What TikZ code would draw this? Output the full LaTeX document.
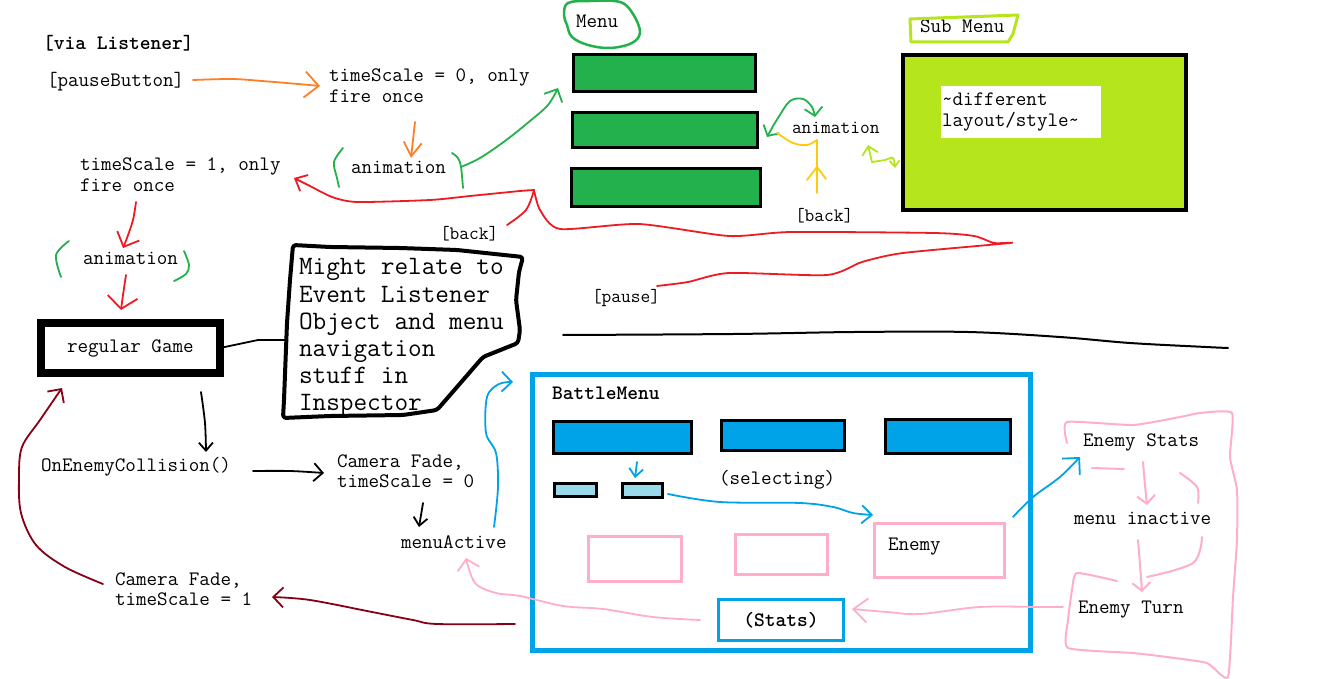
\documentclass[tikz,border=0pt]{standalone}
\usetikzlibrary{arrows.meta}
\definecolor{pgreen}{HTML}{22B14C}
\definecolor{pblue}{HTML}{00A2E8}
\definecolor{plblue}{HTML}{99D9EA}
\definecolor{pred}{HTML}{ED1C24}
\definecolor{porange}{HTML}{FF7F27}
\definecolor{pdred}{HTML}{880015}
\definecolor{ppink}{HTML}{FFAEC9}
\definecolor{plime}{HTML}{B5E61D}
\definecolor{pyellow}{HTML}{FFC90E}
\begin{document}
\begin{tikzpicture}[x=1pt,y=-1pt,
  every node/.style={inner sep=0pt, outer sep=0pt},
  txt/.style={anchor=base west, font=\ttfamily\fontsize{20.5}{24}\selectfont},
  stxt/.style={anchor=base west, font=\ttfamily\fontsize{18.9}{22}\selectfont},
  btxt/.style={anchor=base west, font=\ttfamily\bfseries\fontsize{20.5}{24}\selectfont},
  mtxt/.style={anchor=base west, font=\ttfamily\fontsize{26.5}{30}\selectfont},
  pen/.style={line width=1.8pt, line cap=round, line join=round},
  hd/.style={-{Straight Barb[length=8pt,width=18pt]}},
  hdd/.style={{Straight Barb[length=8pt,width=18pt]}-{Straight Barb[length=8pt,width=18pt]}},
  gbtn/.style={draw=black, fill=pgreen, line width=3pt},
  bbtn/.style={draw=black, fill=pblue, line width=3pt},
  sbtn/.style={draw=black, fill=plblue, line width=3pt},
  pbox/.style={draw=ppink, line width=3pt},
  sm/.style={smooth, tension=0.55}
]
\useasboundingbox (0,0) rectangle (1334,679);
\fill[white] (0,0) rectangle (1334,679);

% ---------------- text, top left ----------------
\node[btxt] (via) at (43,50) {[via Listener]};
\node[txt] (pb) at (47,87) {[pauseButton]};
\node[txt] (ts0a) at (329,82) {timeScale = 0, only};
\node[txt] (ts0b) at (329,103) {fire once};
\node[txt] (anim1) at (351,174) {animation};
\node[txt] (ts1a) at (80,171) {timeScale = 1, only};
\node[txt] (ts1b) at (80,192) {fire once};
\node[txt] (anim2) at (83,265) {animation};
\node[stxt] (back1) at (440,240) {[back]};
\node[stxt] (pause) at (592,302) {[pause]};

% ---------------- regular game ----------------
\node[draw=black, line width=8pt, minimum width=179pt, minimum height=50pt] (game) at (130.5,348) {};
\node[txt] (gametxt) at (67,352) {regular Game};

% ---------------- note box ----------------
\draw[line width=4pt, line join=round, rounded corners=3pt]
  (293,245) -- (330,247) -- (400,248) -- (457,250) -- (523,257) -- (519,272) -- (516,300)
  -- (520,330) -- (518,343) -- (483,357) -- (457,387) -- (437,410) -- (403,415)
  -- (330,416) -- (283,418) -- (284,400) -- (287,323) -- (290,280) -- cycle;
\node[mtxt] (n1) at (299,275) {Might relate to};
\node[mtxt] (n2) at (299,302) {Event Listener};
\node[mtxt] (n3) at (299,329) {Object and menu};
\node[mtxt] (n4) at (299,356) {navigation};
\node[mtxt] (n5) at (299,383) {stuff in};
\node[mtxt] (n6) at (299,410) {Inspector};
\coordinate (notel) at (287,340);
\draw[pen] (game.east) -- (258,340) -- (notel);

% ---------------- Menu ----------------
\node[txt] (menu) at (576,28) {Menu};
\draw[pgreen, line width=2.5pt] plot[smooth cycle, tension=0.6] coordinates
  {(564,15) (568,3) (590,1) (620,2) (633,14) (640,32) (632,43) (610,48) (588,45) (572,37) (567,25)};
\node[gbtn, minimum width=182pt, minimum height=37pt] (m1) at (664.5,73) {};
\node[gbtn, minimum width=185pt, minimum height=35pt] (m2) at (665,130) {};
\node[gbtn, minimum width=189pt, minimum height=38pt] (m3) at (666,187.5) {};
\node[stxt] (anim3) at (792,134) {animation};
\node[stxt] (back2) at (795,222) {[back]};

% ---------------- Sub Menu ----------------
\node[txt] (sub) at (920,33) {Sub Menu};
\draw[plime, line width=3pt, line join=round] (910,19) -- (1018,15) -- (1013,34) -- (1008,42) -- (911,42) -- cycle;
\node[draw=black, fill=plime, line width=4pt, minimum width=283pt, minimum height=155pt] (subbox) at (1044.5,132.5) {};
\node[fill=white, minimum width=160pt, minimum height=52pt] (subw) at (1021,112) {};
\node[txt] (d1) at (942,106) {\char`\~different};
\node[txt] (d2) at (942,127) {layout/style\char`\~};

% ---------------- battle area texts ----------------
\node[txt] (oec) at (41,471) {OnEnemyCollision()};
\node[txt] (cf0a) at (337,467) {Camera Fade,};
\node[txt] (cf0b) at (337,487) {timeScale = 0};
\node[txt] (ma) at (401,548) {menuActive};
\node[txt] (cf1a) at (115,585) {Camera Fade,};
\node[txt] (cf1b) at (115,605) {timeScale = 1};

% ---------------- BattleMenu ----------------
\node[draw=pblue, line width=5pt, minimum width=498pt, minimum height=276pt] (battle) at (781.5,512.5) {};
\node[btxt] (bmt) at (552,399) {BattleMenu};
\node[bbtn, minimum width=138pt, minimum height=32pt] (b1) at (622.5,437.5) {};
\node[bbtn, minimum width=123pt, minimum height=30pt] (b2) at (783,435.5) {};
\node[bbtn, minimum width=125pt, minimum height=34pt] (b3) at (948,436.5) {};
\node[sbtn, minimum width=42pt, minimum height=13pt] (s1) at (575.5,490) {};
\node[sbtn, minimum width=40pt, minimum height=14pt] (s2) at (642.5,490.5) {};
\node[txt] (sel) at (719,484) {(selecting)};
\node[pbox, minimum width=93pt, minimum height=45pt] (p1) at (635,559) {};
\node[pbox, minimum width=92pt, minimum height=40pt] (p2) at (781.5,554.5) {};
\node[pbox, minimum width=130pt, minimum height=54pt] (enemy) at (939.5,550.5) {};
\node[txt] (enemyt) at (888,550) {Enemy};
\node[draw=pblue, line width=3pt, minimum width=125pt, minimum height=41pt, font=\ttfamily\bfseries\fontsize{20.5}{24}\selectfont] (stats) at (781,620) {(Stats)};

% ---------------- enemy stats area ----------------
\node[txt] (est) at (1083,446) {Enemy Stats};
\node[txt] (mi) at (1074,524) {menu inactive};
\node[txt] (et) at (1078,613) {Enemy Turn};
\draw[ppink, pen, line width=2pt] plot[smooth, tension=0.3] coordinates
  {(1067,443) (1067,422) (1133,425) (1180,417) (1200,413) (1232,413) (1230,457) (1237,490) (1237,540)
   (1233,597) (1228,677) (1207,663) (1167,657) (1133,653) (1068,648) (1068,620) (1072,590) (1077,573) (1117,581)};
\draw[ppink, pen, line width=2pt] (1092,468) -- (1124,469);
\draw[ppink, pen, line width=2pt] plot[sm] coordinates {(1180,473) (1197,487) (1198,503)};
\draw[ppink, pen, line width=2pt] plot[sm] coordinates {(1202,537) (1193,563) (1147,577)};
\draw[ppink, pen, hd, line width=2pt] plot[sm] coordinates {(1143,462) (1145,485) (1147,505)};
\draw[ppink, pen, hd, line width=2pt] plot[sm] coordinates {(1138,540) (1140,565) (1142,592)};

% ---------------- connectors ----------------
% orange
\coordinate (o1) at (193,80);
\coordinate (o2) at (320,86);
\draw[porange, pen, -{Straight Barb[length=14pt,width=26pt]}] plot[sm] coordinates {(o1) (232,79) (262,81) (298,84) (o2)};
\coordinate (o3) at (415,122);
\coordinate (o4) at (411,158);
\draw[porange, pen, -{Straight Barb[length=14pt,width=18pt]}] plot[sm] coordinates {(o3) (413,140) (o4)};
% green parens
\draw[pgreen, pen] plot[sm] coordinates {(343,148) (334,162) (337,178) (339,187)};
\draw[pgreen, pen] plot[sm] coordinates {(452,153) (458,158) (461,167) (463,188)};
\coordinate (g1) at (461,167);
\coordinate (g2) at (558,88);
\draw[pgreen, pen, -{Straight Barb[length=10pt,width=20pt]}] plot[sm] coordinates {(g1) (480,158) (505,141) (530,121) (548,105) (g2)};
\draw[pgreen, pen] plot[sm] coordinates {(69,241) (56,255) (61,277)};
\draw[pgreen, pen] plot[sm] coordinates {(184,251) (189,265) (186,274) (174,281)};
% red
\coordinate (r1) at (136,202);
\coordinate (r2) at (123,248);
\draw[pred, pen, -{Straight Barb[length=12pt,width=24pt]}] plot[sm] coordinates {(r1) (133,220) (127,238) (r2)};
\coordinate (r3) at (126,275);
\coordinate (r4) at (121,310);
\draw[pred, pen, -{Straight Barb[length=12pt,width=30pt]}] plot[sm] coordinates {(r3) (123,295) (r4)};
\coordinate (rj) at (534,190);
\coordinate (rt) at (294,178);
\draw[pred, pen, -{Straight Barb[length=10pt,width=18pt]}] plot[smooth, tension=0.4] coordinates
  {(rj) (520,191) (470,196) (430,200) (357,202) (332,197) (310,186) (rt)};
\draw[pred, pen] plot[sm] coordinates {(rj) (526,210) (507,225)};
\coordinate (rp) at (657,286);
\draw[pred, pen] plot[smooth, tension=0.4] coordinates
  {(rj) (540,210) (560,229) (639,224) (729,236) (791,232) (934,233) (974,236) (994,243) (1010,243)
   (903,253) (862,262) (827,275) (729,273) (688,282) (rp)};
% menu side
\coordinate (ga) at (767,137);
\coordinate (gb) at (815,117);
\draw[pgreen, pen, hdd] plot[sm] coordinates {(ga) (778,118) (790,101) (803,99) (812,107) (gb)};
\draw[pyellow, pen] plot[sm] coordinates {(777,133) (793,143) (807,145) (817,140)} -- (817,193);
\draw[pyellow, pen] (807,180) -- (817,167) -- (826,179);
\coordinate (la) at (868,145);
\coordinate (lb) at (895,168);
\draw[plime, pen, {Straight Barb[length=8pt,width=16pt]}-] plot[sm] coordinates {(la) (872,162)};
\draw[plime, pen, -{Straight Barb[length=6pt,width=10pt]}] plot[sm] coordinates {(872,162) (885,160) (893,158) (lb)};
% black
\coordinate (k1) at (201,392);
\coordinate (k2) at (206,452);
\draw[pen, -{Straight Barb[length=8pt,width=14pt]}] plot[sm] coordinates {(k1) (205,423) (k2)};
\coordinate (k3) at (253,471);
\coordinate (k4) at (324,473);
\draw[pen, -{Straight Barb[length=9pt,width=18pt]}] plot[sm] coordinates {(k3) (290,471) (k4)};
\coordinate (k5) at (423,503);
\coordinate (k6) at (419,527);
\draw[pen, -{Straight Barb[length=8pt,width=14pt]}] (k5) -- (k6);
\draw[line width=2pt, line cap=round] plot[sm] coordinates
  {(563,335) (733,334) (854,332) (968,332) (1060,337) (1130,343) (1206,347) (1228,348)};
% blue
\coordinate (u1) at (494,527);
\coordinate (u2) at (513,382);
\draw[pblue, pen, -{Straight Barb[length=10pt,width=20pt]}] plot[sm] coordinates
  {(u1) (498,487) (496,453) (486,433) (487,397) (499,384) (u2)};
\coordinate (u3) at (637,462);
\coordinate (u4) at (635,478);
\draw[pblue, pen, -{Straight Barb[length=8pt,width=14pt]}] (u3) -- (u4);
\coordinate (u5) at (668,494);
\coordinate (u6) at (873,515);
\draw[pblue, pen, -{Straight Barb[length=10pt,width=18pt]}] plot[sm] coordinates
  {(u5) (720,502) (800,503) (833,507) (853,513) (u6)};
\coordinate (u7) at (1013,517);
\coordinate (u8) at (1080,457);
\draw[pblue, pen, -{Straight Barb[length=12pt,width=24pt]}] plot[sm] coordinates {(u7) (1033,497) (1060,477) (u8)};
% pink
\coordinate (q1) at (700,620);
\coordinate (q2) at (466,558);
\draw[ppink, pen, -{Straight Barb[length=10pt,width=22pt]}] plot[sm] coordinates
  {(q1) (653,617) (603,609) (563,606) (520,596) (496,593) (475,583) (q2)};
\coordinate (q3) at (1063,607);
\coordinate (q4) at (852,609);
\draw[ppink, pen, -{Straight Barb[length=14pt,width=24pt]}] plot[sm] coordinates
  {(q3) (1040,607) (980,607) (920,614) (887,612) (q4)};
% dark red
\coordinate (d1s) at (515,624);
\coordinate (d1e) at (272,597);
\draw[pdred, pen, -{Straight Barb[length=10pt,width=20pt]}] plot[sm] coordinates
  {(d1s) (437,624) (413,620) (372,612) (310,600) (d1e)};
\coordinate (d2s) at (103,584);
\coordinate (d2e) at (62,388);
\draw[pdred, pen, -{Straight Barb[length=10pt,width=20pt]}] plot[sm] coordinates
  {(d2s) (65,567) (36,545) (21,513) (19,477) (22,447) (40,420) (d2e)};
\end{tikzpicture}
\end{document}
